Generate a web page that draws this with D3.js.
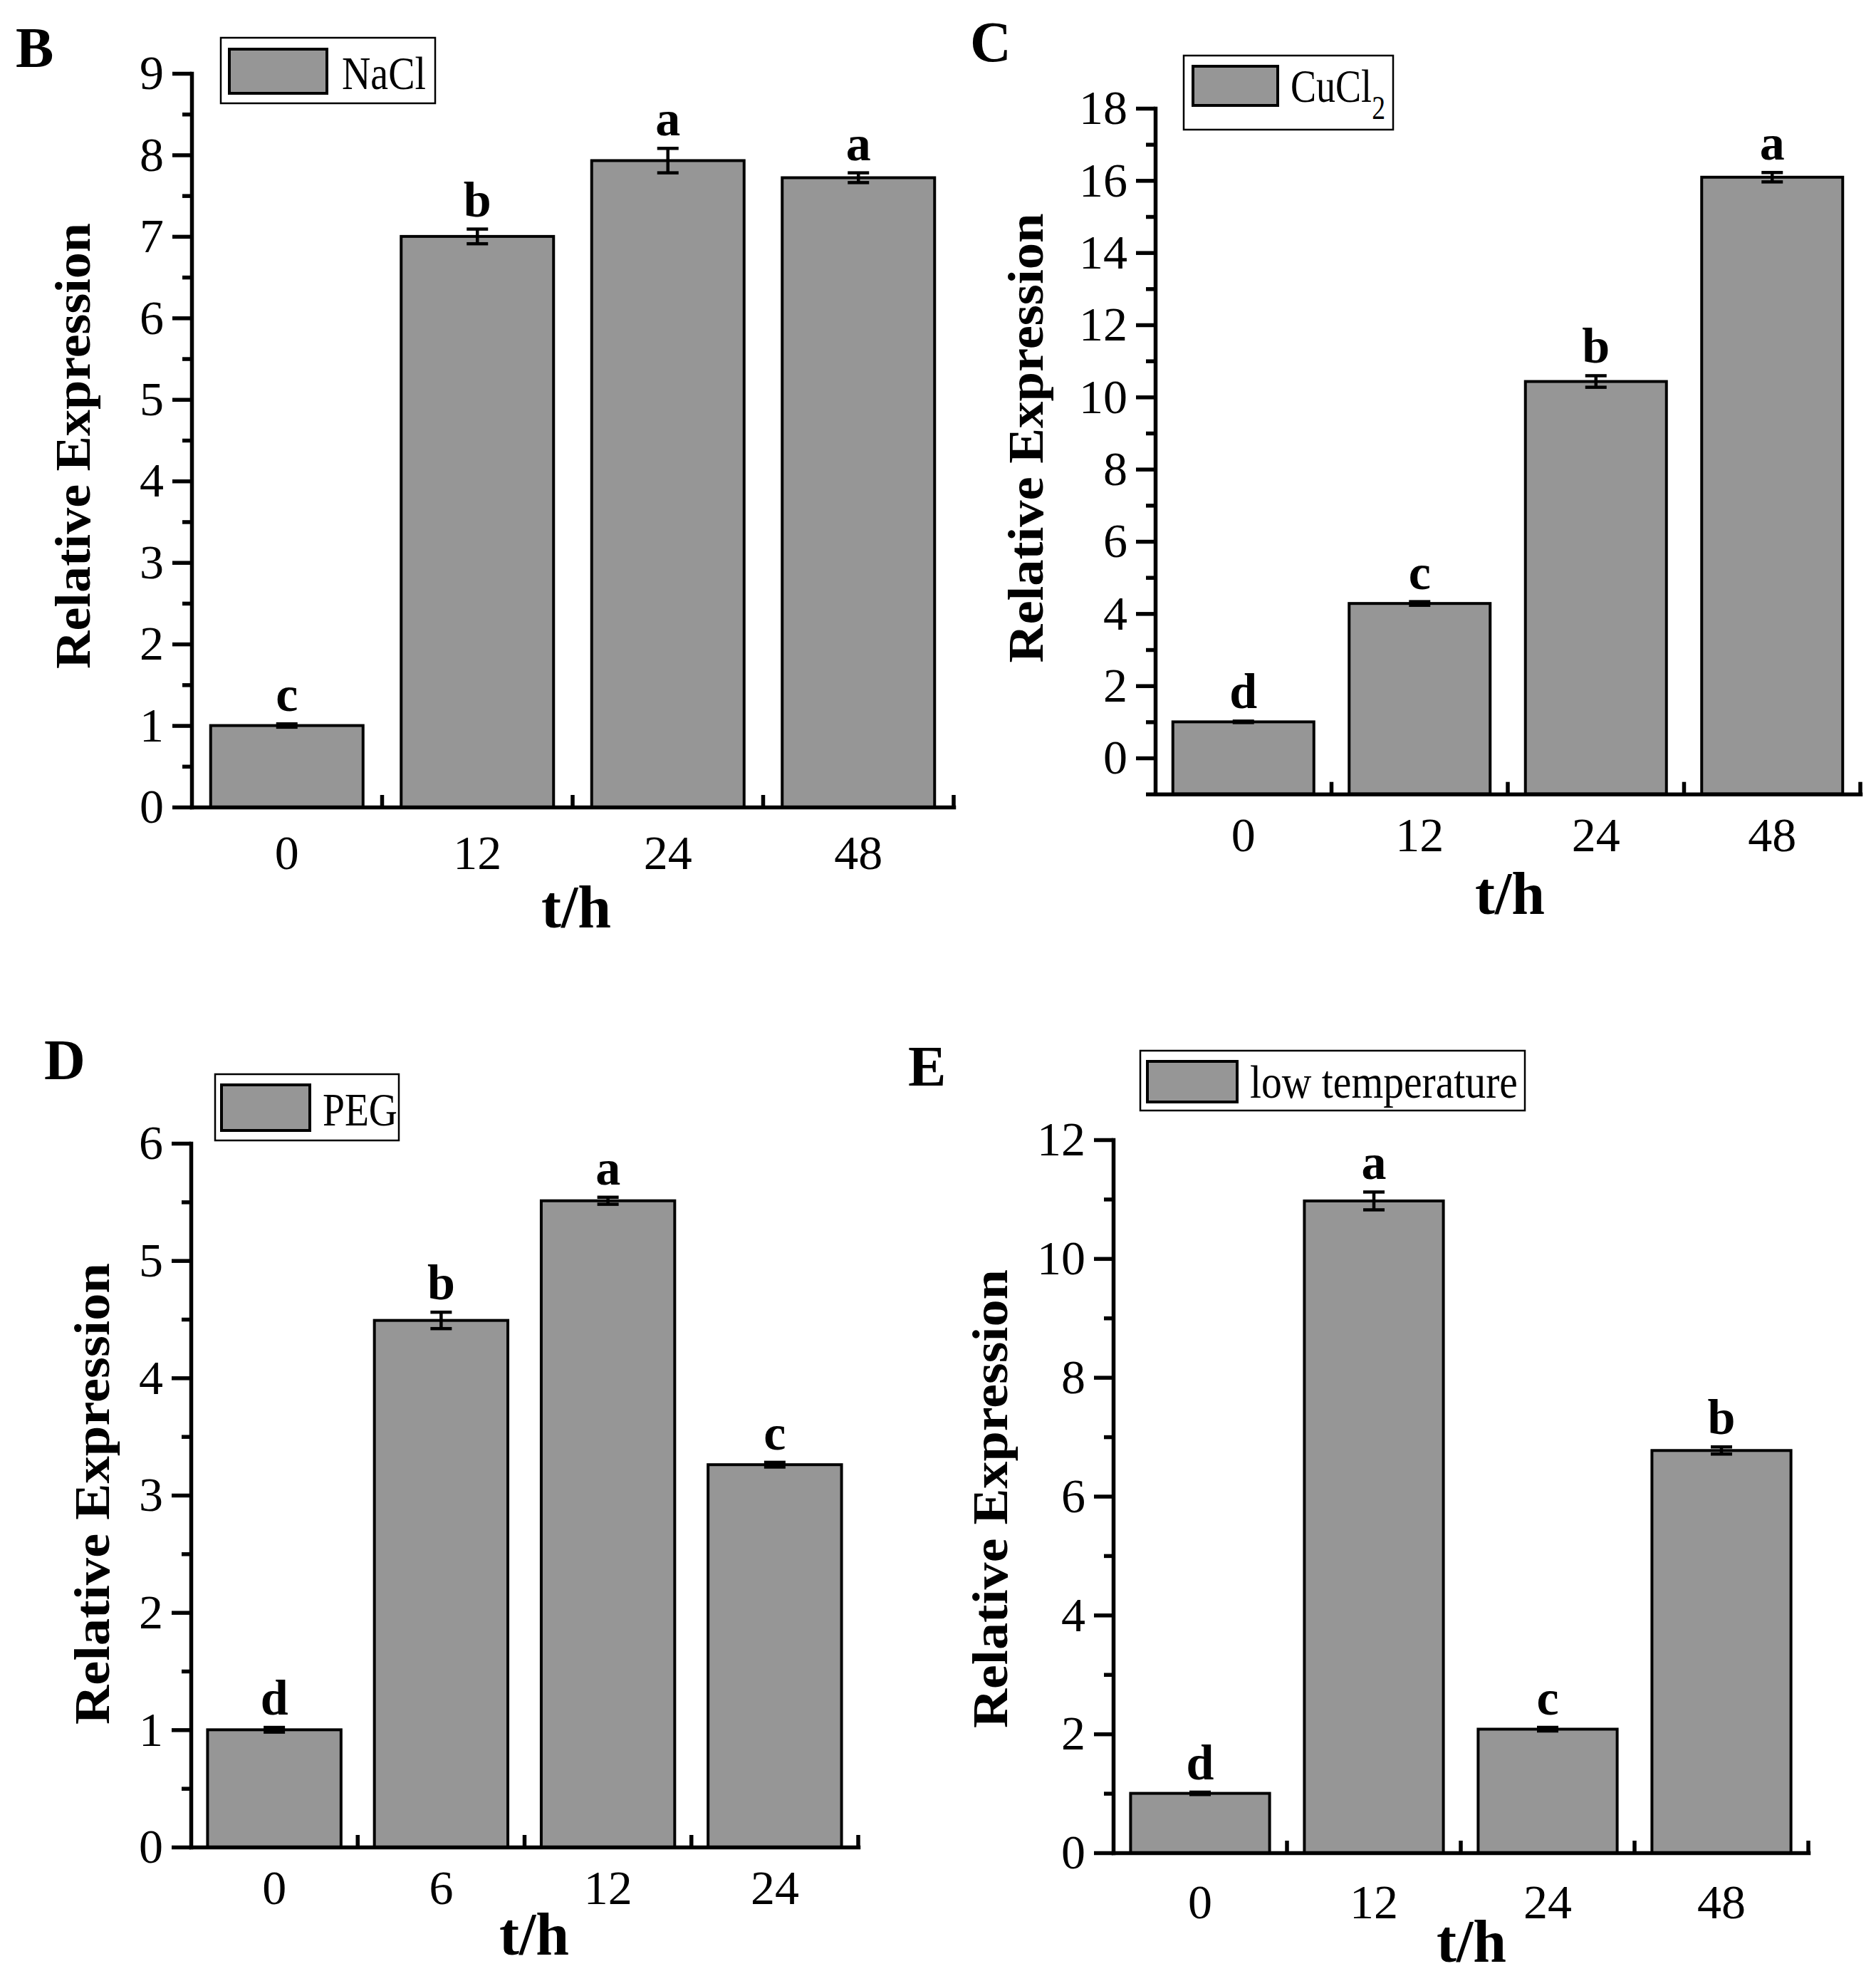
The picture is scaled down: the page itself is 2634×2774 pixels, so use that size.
<!DOCTYPE html>
<html>
<head>
<meta charset="utf-8">
<script src="https://cdn.jsdelivr.net/npm/d3@7"></script>
<style>
    body { margin: 0; background: #fff; }
    svg { display: block; font-family: "Liberation Serif", "Times New Roman", serif; }
</style>
</head>
<body>
<div id="chart"></div>
<script>
// ---------- data ----------
const catsB = ["0", "12", "24", "48"];
const valsB = [1.0, 7.0, 7.93, 7.72];
const errsB = [0.02, 0.09, 0.15, 0.06];
const sigB = ["c", "b", "a", "a"];
const ticksB = [0, 1, 2, 3, 4, 5, 6, 7, 8, 9];

const catsC = ["0", "12", "24", "48"];
const valsC = [1.0, 4.28, 10.43, 16.09];
const errsC = [0.02, 0.05, 0.16, 0.13];
const sigC = ["d", "c", "b", "a"];
const ticksC = [0, 2, 4, 6, 8, 10, 12, 14, 16, 18];

const catsD = ["0", "6", "12", "24"];
const valsD = [1.0, 4.49, 5.51, 3.26];
const errsD = [0.02, 0.07, 0.03, 0.02];
const sigD = ["d", "b", "a", "c"];
const ticksD = [0, 1, 2, 3, 4, 5, 6];

const catsE = ["0", "12", "24", "48"];
const valsE = [1.0, 10.97, 2.08, 6.77];
const errsE = [0.02, 0.15, 0.03, 0.06];
const sigE = ["d", "a", "c", "b"];
const ticksE = [0, 2, 4, 6, 8, 10, 12];

const W = 2634, H = 2774;
const barColor = "#969696";

// panel layout (pixel positions of each plot area)
const panels = [
    { tag: "B", cats: catsB, vals: valsB, errs: errsB, sig: sigB, ticks: ticksB, minorStep: 0.5,
      legend: "NaCl", domain: [0, 9], xr: [269, 1339], yr: [1133, 103],
      tagPos: [22, 94], yTitle: [126, 626, 626], xTitle: [809, 1302], labelDy: 87,
      box: [310, 53, 301, 92], sw: [322, 69, 137, 62], lt: [480, 125, 118] },
    { tag: "C", cats: catsC, vals: valsC, errs: errsC, sig: sigC, ticks: ticksC, minorStep: 1,
      legend: "CuCl", sub: "2", domain: [-1, 18], xr: [1622, 2612], yr: [1114.7, 152],
      tagPos: [1362, 86], yTitle: [1464, 615, 631], xTitle: [2120, 1283], labelDy: 80,
      box: [1662, 78, 294, 104], sw: [1675, 93, 119, 55], lt: [1812, 143, 133] },
    { tag: "D", cats: catsD, vals: valsD, errs: errsD, sig: sigD, ticks: ticksD, minorStep: 0.5,
      legend: "PEG", domain: [0, 6], xr: [268, 1205], yr: [2593, 1605],
      tagPos: [62, 1515], yTitle: [153, 2097, 648], xTitle: [750, 2744], labelDy: 80,
      box: [302, 1508, 258, 93], sw: [311, 1523, 124, 64], lt: [453, 1580, 105] },
    { tag: "E", cats: catsE, vals: valsE, errs: errsE, sig: sigE, ticks: ticksE, minorStep: 1,
      legend: "low temperature", domain: [0, 12], xr: [1563, 2539], yr: [2601, 1600],
      tagPos: [1275, 1524], yTitle: [1414, 2104, 644], xTitle: [2066, 2754], labelDy: 92,
      box: [1601, 1475, 540, 84], sw: [1611, 1490, 126, 57], lt: [1755, 1541, 376] }
];

const svg = d3.select("#chart").append("svg")
    .attr("width", W)
    .attr("height", H)
    .attr("viewBox", `0 0 ${W} ${H}`);

svg.append("rect").attr("width", W).attr("height", H).attr("fill", "#fff");

panels.forEach(p => {
    const g = svg.append("g");

    const x = d3.scaleBand()
        .domain(p.cats)
        .range(p.xr)
        .paddingInner(0.2)
        .paddingOuter(0.1);

    const y = d3.scaleLinear()
        .domain(p.domain)
        .range(p.yr);

    const axisY = p.yr[0];
    const data = p.cats.map((c, i) => ({ cat: c, v: p.vals[i], e: p.errs[i], s: p.sig[i] }));

    // bars
    g.selectAll(".bar")
        .data(data)
        .enter().append("rect")
        .attr("class", "bar")
        .attr("x", d => x(d.cat))
        .attr("width", x.bandwidth())
        .attr("y", d => y(d.v))
        .attr("height", d => axisY - y(d.v))
        .attr("fill", barColor)
        .attr("stroke", "#000")
        .attr("stroke-width", 4);

    // error bars
    const cap = 15;
    const cx = d => x(d.cat) + x.bandwidth() / 2;
    const eb = g.selectAll(".err").data(data).enter().append("g").attr("class", "err")
        .attr("stroke", "#000").attr("stroke-width", 4.5);
    eb.append("line")
        .attr("x1", cx).attr("x2", cx)
        .attr("y1", d => y(d.v - d.e))
        .attr("y2", d => y(d.v + d.e));
    eb.append("line")
        .attr("x1", d => cx(d) - cap).attr("x2", d => cx(d) + cap)
        .attr("y1", d => y(d.v + d.e))
        .attr("y2", d => y(d.v + d.e));
    eb.append("line")
        .attr("x1", d => cx(d) - cap).attr("x2", d => cx(d) + cap)
        .attr("y1", d => y(d.v - d.e))
        .attr("y2", d => y(d.v - d.e));

    // significance letters
    g.selectAll(".sig")
        .data(data)
        .enter().append("text")
        .attr("class", "sig")
        .attr("x", cx)
        .attr("y", d => y(d.v + d.e) - 18)
        .attr("text-anchor", "middle")
        .attr("font-weight", "bold")
        .attr("font-size", 70)
        .text(d => d.s);

    // y axis: major + minor ticks
    const minor = [];
    for (let t = p.domain[0]; t <= p.domain[1] + 1e-9; t += p.minorStep) {
        if (!p.ticks.some(m => Math.abs(m - t) < 1e-9)) minor.push(t);
    }

    const yAxis = g.append("g")
        .attr("transform", `translate(${p.xr[0]},0)`)
        .call(d3.axisLeft(y).tickValues(p.ticks).tickFormat(d3.format("d"))
            .tickSize(27).tickSizeOuter(0).tickPadding(12));
    yAxis.select(".domain").attr("stroke-width", 5.5).attr("stroke-linecap", "square");
    yAxis.selectAll(".tick line").attr("stroke-width", 5.5);
    yAxis.selectAll(".tick text")
        .attr("font-size", 68)
        .attr("font-family", "Liberation Serif, Times New Roman, serif")
        .attr("fill", "#000");

    g.append("g")
        .attr("transform", `translate(${p.xr[0]},0)`)
        .call(d3.axisLeft(y).tickValues(minor).tickSize(13).tickFormat(""))
        .call(a => a.select(".domain").remove())
        .selectAll(".tick line").attr("stroke-width", 5.5);

    // x axis: labels at band centres, inward ticks at band boundaries
    const xAxis = g.append("g")
        .attr("transform", `translate(0,${axisY})`)
        .call(d3.axisBottom(x).tickSize(0).tickSizeOuter(0));
    xAxis.select(".domain").attr("stroke-width", 5.5).attr("stroke-linecap", "square");
    xAxis.selectAll(".tick text")
        .attr("font-size", 68)
        .attr("font-family", "Liberation Serif, Times New Roman, serif")
        .attr("fill", "#000")
        .attr("dy", null)
        .attr("y", p.labelDy);

    const step = x.step();
    const pad = (step - x.bandwidth()) / 2;
    g.selectAll(".xtick")
        .data(p.cats)
        .enter().append("line")
        .attr("class", "xtick")
        .attr("x1", d => x(d) + x.bandwidth() + pad)
        .attr("x2", d => x(d) + x.bandwidth() + pad)
        .attr("y1", axisY)
        .attr("y2", axisY - 17)
        .attr("stroke", "#000")
        .attr("stroke-width", 5.5);

    // axis titles
    g.append("text")
        .attr("transform", `translate(${p.yTitle[0]},${p.yTitle[1]}) rotate(-90)`)
        .attr("text-anchor", "middle")
        .attr("font-weight", "bold")
        .attr("font-size", 70)
        .attr("textLength", p.yTitle[2])
        .attr("lengthAdjust", "spacingAndGlyphs")
        .text("Relative Expression");

    g.append("text")
        .attr("x", p.xTitle[0])
        .attr("y", p.xTitle[1])
        .attr("text-anchor", "middle")
        .attr("font-weight", "bold")
        .attr("font-size", 84)
        .text("t/h");

    // panel tag
    g.append("text")
        .attr("x", p.tagPos[0])
        .attr("y", p.tagPos[1])
        .attr("font-weight", "bold")
        .attr("font-size", 80)
        .text(p.tag);

    // legend
    g.append("rect")
        .attr("x", p.box[0]).attr("y", p.box[1])
        .attr("width", p.box[2]).attr("height", p.box[3])
        .attr("fill", "#fff").attr("stroke", "#000").attr("stroke-width", 2.5);
    g.append("rect")
        .attr("x", p.sw[0]).attr("y", p.sw[1])
        .attr("width", p.sw[2]).attr("height", p.sw[3])
        .attr("fill", barColor).attr("stroke", "#000").attr("stroke-width", 4);

    // condensed legend label (one text element, subscript as a tspan)
    const lt = g.append("text")
        .attr("font-size", 66);
    lt.append("tspan").text(p.legend);
    if (p.sub) {
        lt.append("tspan")
            .attr("font-size", 46)
            .attr("dy", 24)
            .text(p.sub);
    }
    const natural = lt.node().getComputedTextLength();
    const sx = p.lt[2] / natural;
    lt.attr("transform", `translate(${p.lt[0]},${p.lt[1]}) scale(${sx},1)`);
});
</script>
</body>
</html>
